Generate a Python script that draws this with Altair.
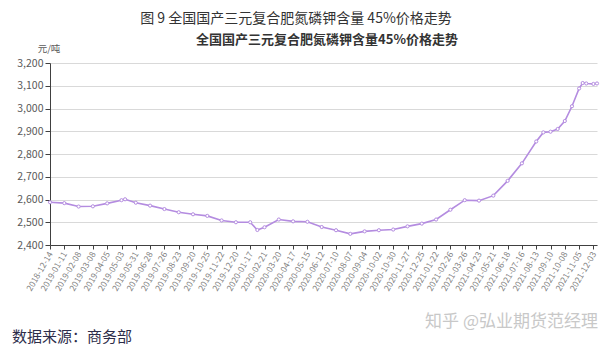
import altair as alt
import pandas as pd

# week index (weekly series starting 2018-12-14, holiday weeks skipped) and price (元/吨)
week_idx = [0, 4, 8, 12, 16, 20, 21, 24, 28, 32, 36, 40, 44, 48, 52, 56, 58, 60, 64, 68, 72,
            76, 80, 84, 88, 92, 96, 100, 104, 108, 112, 116, 120, 124, 128, 132, 136, 138, 140,
            142, 144, 146, 148, 149, 150, 152, 153]
price = [2588, 2584, 2569, 2570, 2583, 2597, 2601, 2586, 2573, 2558, 2544, 2535, 2528, 2508,
         2500, 2500, 2466, 2478, 2512, 2504, 2502, 2479, 2465, 2449, 2460, 2465, 2468, 2482,
         2494, 2512, 2555, 2597, 2595, 2617, 2682, 2759, 2855, 2895, 2898, 2910, 2945, 3010,
         3088, 3112, 3110, 3108, 3110]

tick_labels = ["2018-12-14", "2019-01-11", "2019-02-08", "2019-03-08", "2019-04-05", "2019-05-03",
               "2019-05-31", "2019-06-28", "2019-07-26", "2019-08-23", "2019-09-20", "2019-10-25",
               "2019-11-22", "2019-12-20", "2020-01-17", "2020-02-21", "2020-03-20", "2020-04-17",
               "2020-05-15", "2020-06-12", "2020-07-10", "2020-08-07", "2020-09-04", "2020-10-02",
               "2020-10-30", "2020-11-27", "2020-12-25", "2021-01-22", "2021-02-26", "2021-03-26",
               "2021-04-23", "2021-05-21", "2021-06-18", "2021-07-16", "2021-08-13", "2021-09-10",
               "2021-10-08", "2021-11-05", "2021-12-03"]
tick_pos = [i * 4 for i in range(len(tick_labels))]

outer_title = "图 9  全国国产三元复合肥氮磷钾含量 45%价格走势"
inner_title = "全国国产三元复合肥氮磷钾含量45%价格走势"
unit_text = "元/吨"
source_text = "数据来源：商务部"
watermark = "知乎 @弘业期货范经理"

df = pd.DataFrame({"w": week_idx, "p": price})
one = pd.DataFrame({"a": [0]})

label_arr = "[" + ",".join("'" + s + "'" for s in tick_labels) + "]"

FONT = "Noto Sans CJK SC"
LINE = "#b48ce0"

base = alt.Chart(df).encode(
    x=alt.X("w:Q", scale=alt.Scale(domain=[0, 153], nice=False, zero=False),
            axis=alt.Axis(values=tick_pos, labelExpr=label_arr + "[round(datum.value/4)]",
                          labelAngle=-60, labelAlign="right", labelBaseline="middle",
                          labelFontSize=8.5, labelColor="#7f7f7f", labelFont=FONT,
                          tickColor="#404040", tickSize=4, domainColor="#404040",
                          labelPadding=3, grid=False, title=None, labelOverlap=False)),
    y=alt.Y("p:Q", scale=alt.Scale(domain=[2400, 3200], nice=False, zero=False),
            axis=alt.Axis(values=list(range(2400, 3201, 100)), format=",.0f",
                          labelFontSize=10.5, labelColor="#595959", labelFont=FONT,
                          tickColor="#404040", tickSize=5, domainColor="#404040",
                          gridColor="#d9d9d9", labelPadding=2, title=None)),
)

line = base.mark_line(color=LINE, strokeWidth=1.6)
pts = base.mark_point(color=LINE, fill="white", filled=False, size=10, strokeWidth=1, opacity=1)

def txt(s, x, y, size, color, align="center", weight="normal"):
    return alt.Chart(one).mark_text(text=s, fontSize=size, color=color, align=align,
                                    baseline="middle", font=FONT, fontWeight=weight).encode(
        x=alt.value(x), y=alt.value(y))

layers = [
    line, pts,
    txt(outer_title, 246, -44, 14, "#333333"),
    txt(inner_title, 277, -23, 13, "#333333", weight="bold"),
    txt(unit_text, -1, -14, 9.5, "#595959"),
    txt(source_text, -38, 274, 15, "#2d2d4a", align="left"),
    txt(watermark, 548, 259, 17, "#c8c8c8", align="right"),
]

chart = alt.layer(*layers).properties(
    width=547, height=182,
    autosize=alt.AutoSizeParams(type="none"),
    padding={"left": 42, "top": 55, "right": 4, "bottom": 104},
    background="white",
).configure_view(stroke=None)

chart.save("out.html", embed_options={"renderer": "svg", "actions": False})
